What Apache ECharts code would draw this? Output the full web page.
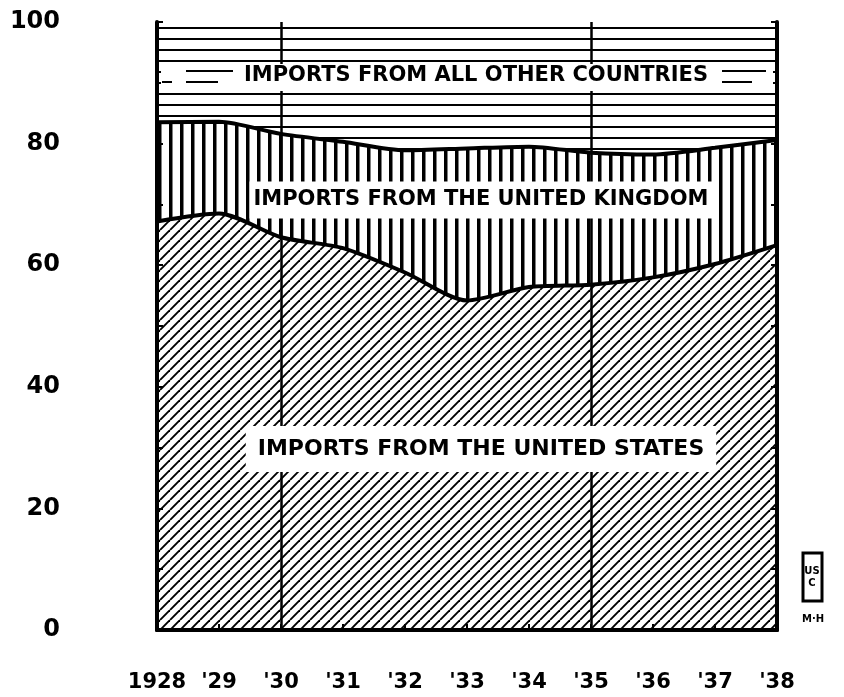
<!DOCTYPE html>
<html>
<head>
<meta charset="utf-8">
<script src="https://cdn.jsdelivr.net/npm/echarts@6/dist/echarts.min.js"></script>
<style>
html,body{margin:0;padding:0;background:#fff;}
#chart{width:844px;height:697px;}
</style>
</head>
<body>
<div id="chart"></div>
<script>
// ---- data (percent of total imports) ----
const years = ['1928', "'29", "'30", "'31", "'32", "'33", "'34", "'35", "'36", "'37", "'38"];
const fromUnitedStates = [67.2, 68.5, 64.6, 62.8, 58.8, 54.2, 56.4, 56.8, 58.0, 60.2, 63.3];
const fromUnitedKingdom = [16.3, 15.1, 17.0, 17.5, 20.1, 25.0, 23.1, 21.7, 20.2, 19.1, 17.3];
const fromAllOther = [16.5, 16.4, 18.4, 19.7, 21.1, 20.8, 20.5, 21.5, 21.8, 20.7, 19.4];
const gridYears = ["'30", "'35"];
const yTicks = [0, 20, 40, 60, 80, 100];

// ---- hatch patterns ----
function diagPattern() {
  const w = 10, h = 10;
  const c = document.createElement('canvas');
  c.width = w; c.height = h;
  const g = c.getContext('2d');
  g.fillStyle = '#fff'; g.fillRect(0, 0, w, h);
  g.strokeStyle = '#000'; g.lineWidth = 1.9;
  for (const dx of [-w, 0, w]) {
    g.beginPath(); g.moveTo(dx, h); g.lineTo(dx + w, 0); g.stroke();
  }
  return c;
}
function vertPattern() {
  const w = 11, h = 4;
  const c = document.createElement('canvas');
  c.width = w; c.height = h;
  const g = c.getContext('2d');
  g.fillStyle = '#fff'; g.fillRect(0, 0, w, h);
  g.fillStyle = '#000'; g.fillRect(4, 0, 3.5, h);
  return c;
}
function horizPattern() {
  const w = 4, h = 11;
  const c = document.createElement('canvas');
  c.width = w; c.height = h;
  const g = c.getContext('2d');
  g.fillStyle = '#fff'; g.fillRect(0, 0, w, h);
  g.fillStyle = '#000'; g.fillRect(0, 5, w, 2);
  return c;
}

const chart = echarts.init(document.getElementById('chart'), null, {renderer: 'canvas'});
const font = '"DejaVu Sans", "Liberation Sans", sans-serif';

const option = {
  animation: false,
  backgroundColor: '#fff',
  grid: {left: 157, right: 67, top: 22, bottom: 67, containLabel: false},
  xAxis: [{
    type: 'category', data: years, boundaryGap: false, position: 'bottom', z: 10,
    axisLine: {show: true, lineStyle: {color: '#000', width: 4}},
    axisTick: {show: true, inside: true, length: 6, lineStyle: {color: '#000', width: 2}},
    axisLabel: {show: true, color: '#000', fontFamily: font, fontWeight: 'bold', fontSize: 21, margin: 42, interval: 0},
    splitLine: {show: false}
  }, {
    type: 'category', data: years, boundaryGap: false, position: 'top', z: 10,
    axisLine: {show: true, lineStyle: {color: '#000', width: 4}},
    axisTick: {show: false}, axisLabel: {show: false}, splitLine: {show: false}
  }],
  yAxis: [{
    type: 'value', min: 0, max: 100, interval: 10, position: 'left', z: 10,
    axisLine: {show: true, lineStyle: {color: '#000', width: 4}},
    axisTick: {show: true, inside: true, length: 6, lineStyle: {color: '#000', width: 2}},
    axisLabel: {show: true, color: '#000', fontFamily: font, fontWeight: 'bold', fontSize: 24, margin: 97,
      formatter: v => yTicks.indexOf(v) >= 0 ? String(v) : ''},
    splitLine: {show: false}
  }, {
    type: 'value', min: 0, max: 100, interval: 10, position: 'right', z: 10,
    axisLine: {show: true, lineStyle: {color: '#000', width: 4}},
    axisTick: {show: true, inside: true, length: 6, lineStyle: {color: '#000', width: 2}},
    axisLabel: {show: false}, splitLine: {show: false}
  }],
  series: [{
    name: 'Imports from the United States', type: 'line', stack: 'total', data: fromUnitedStates,
    z: 4, smooth: 0.25, symbol: 'none',
    lineStyle: {color: '#000', width: 4},
    areaStyle: {color: {image: diagPattern(), repeat: 'repeat'}, opacity: 1}
  }, {
    name: 'Imports from the United Kingdom', type: 'line', stack: 'total', data: fromUnitedKingdom,
    z: 3, smooth: 0.25, symbol: 'none',
    lineStyle: {color: '#000', width: 4},
    areaStyle: {color: {image: vertPattern(), repeat: 'repeat'}, opacity: 1}
  }, {
    name: 'Imports from all other countries', type: 'line', stack: 'total', data: fromAllOther,
    z: 2, smooth: 0.25, symbol: 'none',
    lineStyle: {width: 0},
    areaStyle: {color: {image: horizPattern(), repeat: 'repeat'}, opacity: 1},
    markLine: {
      silent: true, symbol: 'none', z: 5,
      label: {show: false},
      lineStyle: {color: '#000', width: 2.5, type: 'solid'},
      data: gridYears.map(y => ({xAxis: y}))
    }
  }],
  graphic: [
    // top label band
    {type: 'rect', z: 100, shape: {x: 161, y: 64, width: 612, height: 27}, style: {fill: '#fff'}},
    {type: 'line', z: 101, shape: {x1: 186, y1: 71, x2: 233, y2: 71}, style: {stroke: '#000', lineWidth: 2}},
    {type: 'line', z: 101, shape: {x1: 186, y1: 82, x2: 218, y2: 82}, style: {stroke: '#000', lineWidth: 2}},
    {type: 'line', z: 101, shape: {x1: 162, y1: 82, x2: 172, y2: 82}, style: {stroke: '#000', lineWidth: 2}},
    {type: 'line', z: 101, shape: {x1: 722, y1: 71, x2: 766, y2: 71}, style: {stroke: '#000', lineWidth: 2}},
    {type: 'line', z: 101, shape: {x1: 722, y1: 82, x2: 752, y2: 82}, style: {stroke: '#000', lineWidth: 2}},
    {type: 'text', z: 102, x: 476, y: 76, style: {text: 'IMPORTS FROM ALL OTHER COUNTRIES', fill: '#000',
      font: 'bold 21px ' + font, align: 'center', verticalAlign: 'middle'}},
    // UK label
    {type: 'text', z: 102, x: 481, y: 200, style: {text: 'IMPORTS FROM THE UNITED KINGDOM', fill: '#000',
      font: 'bold 21px ' + font, align: 'center', verticalAlign: 'middle', backgroundColor: '#fff', padding: [8, 4, 8, 4]}},
    // US label
    {type: 'text', z: 102, x: 481, y: 449, style: {text: 'IMPORTS FROM THE UNITED STATES', fill: '#000',
      font: 'bold 22px ' + font, align: 'center', verticalAlign: 'middle', backgroundColor: '#fff', padding: [12, 12, 12, 12]}},
    // emblem
    {type: 'rect', z: 100, shape: {x: 803, y: 553, width: 19, height: 48}, style: {fill: '#fff', stroke: '#000', lineWidth: 3}},
    {type: 'text', z: 101, x: 812, y: 577, style: {text: 'US\nC', fill: '#000', font: 'bold 10px ' + font, align: 'center', verticalAlign: 'middle', lineHeight: 12}},
    {type: 'text', z: 101, x: 813, y: 619, style: {text: 'M·H', fill: '#000', font: 'bold 10px ' + font, align: 'center', verticalAlign: 'middle'}}
  ]
};
chart.setOption(option);
</script>
</body>
</html>
